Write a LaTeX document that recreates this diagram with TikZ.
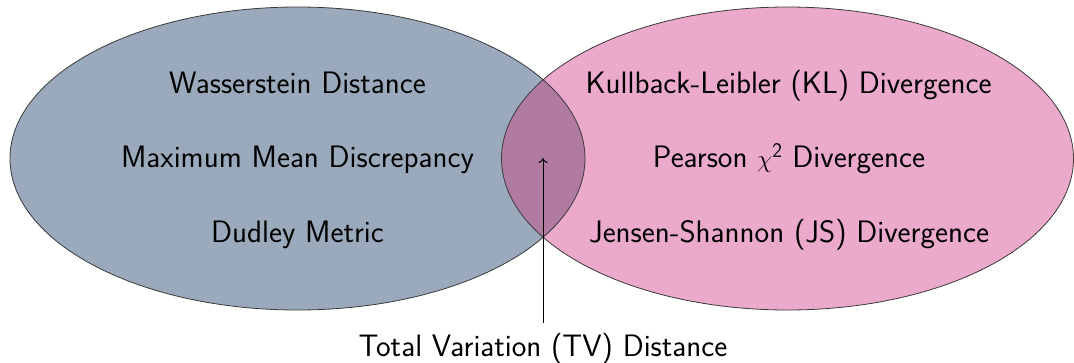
\documentclass[tikz,border=0pt]{standalone}
\usetikzlibrary{arrows.meta}
\definecolor{leftfill}{HTML}{9AAABC}
\definecolor{rightfill}{HTML}{EBA9CB}
\definecolor{lensfill}{HTML}{B07AA1}
\definecolor{edge}{HTML}{3A3A3A}
\begin{document}
\begin{tikzpicture}[x=1pt,y=-1pt,
  lbl/.style={font=\sffamily\fontsize{31}{37}\selectfont, anchor=base, inner sep=0pt},
  outline/.style={draw=edge, line width=0.8pt},
  pointer/.style={draw=black, line width=1pt, -{To[length=5pt,width=9pt]}}]
\useasboundingbox (0,0) rectangle (1074,362);
\coordinate (cl) at (297.5,158.5);
\coordinate (cr) at (787.5,158.5);
\fill[leftfill] (cl) ellipse [x radius=287.5, y radius=151.5];
\fill[rightfill] (cr) ellipse [x radius=286, y radius=151.5];
\begin{scope}
  \clip (cl) ellipse [x radius=287.5, y radius=151.5];
  \fill[lensfill] (cr) ellipse [x radius=286, y radius=151.5];
\end{scope}
\draw[outline] (cl) ellipse [x radius=287.5, y radius=151.5];
\draw[outline] (cr) ellipse [x radius=286, y radius=151.5];
\node[lbl] (w) at (297.5,93) {Wasserstein Distance};
\node[lbl] (m) at (297.5,167) {Maximum Mean Discrepancy};
\node[lbl] (d) at (297.5,242) {Dudley Metric};
\node[lbl] (kl) at (788.5,93) {Kullback-Leibler (KL) Divergence};
\node[lbl] (p) at (789,167) {Pearson $\chi^{\mathsf{2}}$ Divergence};
\node[lbl] (js) at (789,242) {Jensen-Shannon (JS) Divergence};
\node[lbl] (tv) at (543,356) {Total Variation (TV) Distance};
\coordinate (lens) at (543,158);
\draw[pointer] (543,323) -- (lens);
\end{tikzpicture}
\end{document}
